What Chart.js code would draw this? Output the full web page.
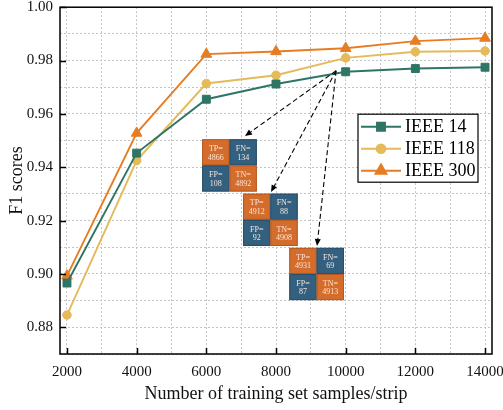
<!DOCTYPE html>
<html>
<head>
<meta charset="utf-8">
<script src="https://cdn.jsdelivr.net/npm/chart.js@4/dist/chart.umd.min.js"></script>
<style>
  html, body { margin: 0; padding: 0; background: #ffffff; }
  #wrap { width: 503px; height: 410px; }
</style>
</head>
<body>
<div id="wrap"><canvas id="c" width="503" height="410"></canvas></div>
<script>
// Training set size per strip (x values)
const samples = [2000, 4000, 6000, 8000, 10000, 12000, 14000];

// F1 scores per test system
const ieee14  = [0.8966, 0.9453, 0.9655, 0.9712, 0.9758, 0.9770, 0.9775];
const ieee118 = [0.8846, 0.9425, 0.9714, 0.9745, 0.9810, 0.9833, 0.9836];
const ieee300 = [0.8993, 0.9528, 0.9824, 0.9834, 0.9846, 0.9873, 0.9884];

// Series names
const seriesNames = ['IEEE 14', 'IEEE 118', 'IEEE 300'];

// Axis tick labels
const xTickLabels = ['2000', '4000', '6000', '8000', '10000', '12000', '14000'];
const yTickLabels = ['0.88', '0.90', '0.92', '0.94', '0.96', '0.98', '1.00'];

// Confusion matrix entries (TP, FN, FP, TN)
const cmNames = ['TP', 'FN', 'FP', 'TN'];
const cmA = [4866, 134, 108, 4892];
const cmB = [4912, 88, 92, 4908];
const cmC = [4931, 69, 87, 4913];

const COLORS = {
  green: '#2e7566',
  yellow: '#e4ba5a',
  orange: '#e67d22',
  cellOrange: '#d46c2c',
  cellBlue: '#34607f'
};
const SERIF = '"Liberation Serif", "DejaVu Serif", serif';

// Dotted grid: one line every 1000 samples
const xGrid = [];
for (let v = 2000; v <= 14000; v += 1000) xGrid.push(v);

// Placement of the matrix insets (data units) and of the dashed pointers
const insets = [
  { values: cmA, x: 5880, top: 0.9505, arrowTo: [7110, 0.9517] },
  { values: cmB, x: 7053, top: 0.9301, arrowTo: [7857, 0.9307] },
  { values: cmC, x: 8382, top: 0.9098, arrowTo: [9178, 0.9105] }
];
const arrowFrom = [9725, 0.9762];
const cellW = 785, cellH = 0.0098;

const toPoints = ys => samples.map((x, i) => ({ x, y: ys[i] }));

const datasets = [
  { label: seriesNames[0], data: toPoints(ieee14),  color: COLORS.green,  style: 'rect',     r: 5.6 },
  { label: seriesNames[1], data: toPoints(ieee118), color: COLORS.yellow, style: 'circle',   r: 4.3 },
  { label: seriesNames[2], data: toPoints(ieee300), color: COLORS.orange, style: 'triangle', r: 6.2 }
].map(d => ({
  label: d.label,
  data: d.data,
  borderColor: d.color,
  backgroundColor: d.color,
  pointBackgroundColor: d.color,
  pointBorderColor: d.color,
  pointStyle: d.style,
  pointRadius: d.r,
  pointBorderWidth: 1,
  borderWidth: 1.9,
  tension: 0
}));

function arrow(ctx, x1, y1, x2, y2) {
  const ang = Math.atan2(y2 - y1, x2 - x1);
  const head = 7, half = 3;
  const bx = x2 - head * Math.cos(ang), by = y2 - head * Math.sin(ang);
  ctx.save();
  ctx.strokeStyle = '#000';
  ctx.lineWidth = 1.1;
  ctx.setLineDash([5, 3]);
  ctx.beginPath();
  ctx.moveTo(x1, y1);
  ctx.lineTo(bx, by);
  ctx.stroke();
  ctx.setLineDash([]);
  ctx.fillStyle = '#000';
  ctx.beginPath();
  ctx.moveTo(x2, y2);
  ctx.lineTo(bx - half * Math.sin(ang), by + half * Math.cos(ang));
  ctx.lineTo(bx + half * Math.sin(ang), by - half * Math.cos(ang));
  ctx.closePath();
  ctx.fill();
  ctx.restore();
}

const decorPlugin = {
  id: 'decor',
  afterDatasetsDraw(chart) {
    const { ctx, scales: { x, y }, chartArea: a } = chart;

    // dashed pointers
    const fx = x.getPixelForValue(arrowFrom[0]), fy = y.getPixelForValue(arrowFrom[1]);
    insets.forEach(ins => arrow(ctx, fx, fy, x.getPixelForValue(ins.arrowTo[0]), y.getPixelForValue(ins.arrowTo[1])));

    // confusion matrix insets
    insets.forEach(ins => {
      for (let k = 0; k < 4; k++) {
        const col = k % 2, row = Math.floor(k / 2);
        const x0 = x.getPixelForValue(ins.x + col * cellW);
        const x1 = x.getPixelForValue(ins.x + (col + 1) * cellW);
        const y0 = y.getPixelForValue(ins.top - row * cellH);
        const y1 = y.getPixelForValue(ins.top - (row + 1) * cellH);
        const diag = (k === 0 || k === 3);
        ctx.save();
        ctx.fillStyle = diag ? COLORS.cellOrange : COLORS.cellBlue;
        ctx.fillRect(x0, y0, x1 - x0, y1 - y0);
        ctx.strokeStyle = diag ? '#b55a22' : '#2a4f69';
        ctx.lineWidth = 1;
        ctx.strokeRect(x0 + 0.5, y0 + 0.5, x1 - x0 - 1, y1 - y0 - 1);
        ctx.fillStyle = 'rgba(255,240,228,0.92)';
        ctx.font = '8px ' + SERIF;
        ctx.textAlign = 'center';
        ctx.textBaseline = 'middle';
        const cx = (x0 + x1) / 2, h = y1 - y0;
        ctx.fillText(cmNames[k] + '=', cx, y0 + h * 0.37);
        ctx.fillText(String(ins.values[k]), cx, y0 + h * 0.70);
        ctx.restore();
      }
    });

    // legend box
    const lx = a.right - 134, ly = a.top + 107, lw = 120, lh = 68;
    ctx.save();
    ctx.fillStyle = '#fff';
    ctx.fillRect(lx, ly, lw, lh);
    ctx.strokeStyle = '#000';
    ctx.lineWidth = 1.2;
    ctx.strokeRect(lx, ly, lw, lh);
    chart.data.datasets.forEach((ds, i) => {
      const ry = ly + 12.5 + i * 22;
      ctx.strokeStyle = ds.borderColor;
      ctx.lineWidth = 2;
      ctx.beginPath();
      ctx.moveTo(lx + 3, ry);
      ctx.lineTo(lx + 43, ry);
      ctx.stroke();
      ctx.fillStyle = ds.pointBackgroundColor;
      Chart.helpers.drawPoint(ctx, { pointStyle: ds.pointStyle, radius: ds.pointRadius, rotation: 0, borderWidth: 1 }, lx + 23, ry);
      ctx.fill();
      ctx.fillStyle = '#000';
      ctx.font = '18px ' + SERIF;
      ctx.textAlign = 'left';
      ctx.textBaseline = 'middle';
      ctx.fillText(ds.label, lx + 47, ry + 1);
    });
    ctx.restore();
  },
  afterDraw(chart) {
    const { ctx, scales: { x, y }, chartArea: a } = chart;
    ctx.save();
    ctx.strokeStyle = '#000';
    ctx.lineWidth = 1.5;
    // inward major ticks
    ctx.beginPath();
    xTickLabels.forEach(t => {
      const px = Math.round(x.getPixelForValue(Number(t))) + 0.5;
      ctx.moveTo(px, a.bottom);
      ctx.lineTo(px, a.bottom - 6);
    });
    yTickLabels.forEach(t => {
      const py = Math.round(y.getPixelForValue(Number(t))) + 0.5;
      ctx.moveTo(a.left, py);
      ctx.lineTo(a.left + 6, py);
    });
    ctx.stroke();
    // frame
    ctx.strokeRect(a.left, a.top, a.right - a.left, a.bottom - a.top);
    ctx.restore();
  }
};

const gridStyle = () => ({ color: '#c4c4c4', lineWidth: 1, drawTicks: false });

new Chart(document.getElementById('c'), {
  type: 'line',
  data: { datasets },
  options: {
    responsive: false,
    devicePixelRatio: 1,
    animation: false,
    layout: { padding: { left: 0, right: 11, top: 7, bottom: 0 } },
    plugins: { legend: { display: false }, tooltip: { enabled: false } },
    scales: {
      x: {
        type: 'linear',
        min: 1800,
        max: 14200,
        grid: gridStyle(),
        border: { display: false, dash: [2, 2] },
        afterBuildTicks(s) { s.ticks = xGrid.map(v => ({ value: v })); },
        ticks: {
          autoSkip: false,
          maxRotation: 0,
          padding: 9,
          color: '#111',
          font: { family: SERIF, size: 15 },
          callback: v => xTickLabels.includes(String(Math.round(v))) ? String(Math.round(v)) : ''
        },
        title: {
          display: true,
          text: 'Number of training set samples/strip',
          color: '#111',
          font: { family: SERIF, size: 18 },
          padding: { top: 0, bottom: 5 }
        },
        afterFit(s) { s.height = 56; s.paddingLeft = 0; s.paddingRight = 0; }
      },
      y: {
        type: 'linear',
        min: 0.87,
        max: 1.0,
        grid: gridStyle(),
        border: { display: false, dash: [2, 2] },
        ticks: {
          stepSize: 0.01,
          includeBounds: false,
          autoSkip: false,
          padding: 7,
          color: '#111',
          font: { family: SERIF, size: 15 },
          callback: v => { const s = v.toFixed(2); return yTickLabels.includes(s) ? s : ''; }
        },
        title: {
          display: true,
          text: 'F1 scores',
          color: '#111',
          font: { family: SERIF, size: 18 },
          padding: { top: 6, bottom: 0 }
        },
        afterFit(s) { s.width = 60; s.paddingTop = 0; s.paddingBottom = 0; }
      }
    }
  },
  plugins: [decorPlugin]
});
</script>
</body>
</html>
